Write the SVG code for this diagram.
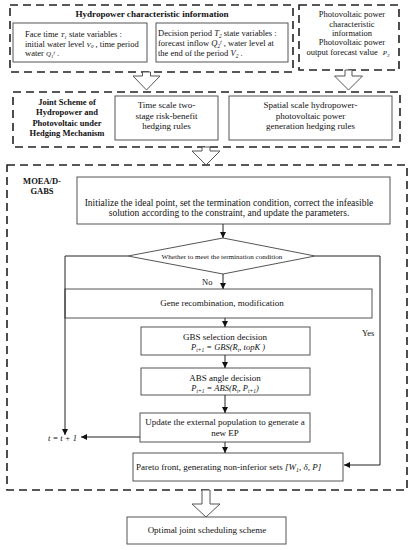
<svg xmlns="http://www.w3.org/2000/svg" width="419" height="550" viewBox="0 0 419 550">
<defs>
<marker id="ah" viewBox="0 0 10 10" refX="10" refY="5" markerWidth="6" markerHeight="6" orient="auto-start-reverse" markerUnits="userSpaceOnUse">
<path d="M0,0 L10,5 L0,10 z" fill="#111"/>
</marker>
<style>
.dash{fill:none;stroke:#222;stroke-width:1.6;stroke-dasharray:8,5}
.box{fill:#fff;stroke:#555;stroke-width:1}
.hollow{fill:#fff;stroke:#555;stroke-width:1}
.t{font-family:"Liberation Serif","Times New Roman",serif;font-size:8.5px;fill:#111}
.m{font-size:9px}
.c{text-anchor:middle}
.b{font-weight:bold}
.i{font-style:italic}
.ln{fill:none;stroke:#222;stroke-width:1}
.arr{fill:none;stroke:#222;stroke-width:1;marker-end:url(#ah)}
</style>
</defs>
<rect width="419" height="550" fill="#fff"/>

<g id="hydro-info">
<rect class="dash" x="10" y="5" width="283" height="67"/>
<text class="t c b" x="152" y="17" style="font-size:9.1px">Hydropower characteristic information</text>
</g>
<g id="face-time">
<rect class="box" x="13" y="23" width="134" height="39"/>
<text class="t" x="25" y="37">Face time <tspan class="i" font-size="7">T<tspan font-size="5" dy="1.5">1</tspan></tspan><tspan dy="-1.5">  state variables :</tspan></text>
<text class="t" x="25" y="46.5">initial water level <tspan class="i" font-size="7">V<tspan font-size="5" dy="1.5">0</tspan></tspan><tspan dy="-1.5"> , time period</tspan></text>
<text class="t" x="25" y="56">water <tspan class="i" font-size="7">Q<tspan font-size="5" dy="1.5">1</tspan><tspan font-size="5" dy="-4">f</tspan></tspan><tspan dy="2.5"> .</tspan></text>
</g>
<g id="decision-period">
<rect class="box" x="156" y="23" width="132" height="39"/>
<text class="t" x="158" y="36">Decision period <tspan class="i">T<tspan font-size="5.5" dy="1.5">2</tspan></tspan><tspan dy="-1.5">  state variables :</tspan></text>
<text class="t" x="158" y="46">forecast inflow <tspan class="i">Q<tspan font-size="5.5" dy="1.5">2</tspan><tspan font-size="5" dy="-5">f</tspan></tspan><tspan dy="3.5"> , water level at</tspan></text>
<text class="t" x="158" y="56">the end of the period <tspan class="i">V<tspan font-size="5.5" dy="1.5">2</tspan></tspan><tspan dy="-1.5"> .</tspan></text>
</g>
<g id="pv-info">
<rect class="dash" x="299" y="5" width="100" height="65"/>
<text class="t c" x="352" y="17">Photovoltaic power</text>
<text class="t c" x="352" y="26.5">characteristic</text>
<text class="t c" x="352" y="36">information</text>
<text class="t c" x="352" y="45">Photovoltaic power</text>
<text class="t c" x="348" y="55">output forecast value <tspan class="i" font-size="7" dx="3">P<tspan font-size="5" dy="1.5">3</tspan></tspan></text>
</g>

<g id="joint-scheme">
<rect class="dash" x="13" y="92" width="387" height="55"/>
<text class="t c b" x="67" y="105">Joint Scheme of</text>
<text class="t c b" x="67" y="115">Hydropower and</text>
<text class="t c b" x="67" y="126">Photovoltaic under</text>
<text class="t c b" x="67" y="136">Hedging Mechanism</text>
</g>
<g id="time-scale">
<rect class="box" x="115" y="96" width="103" height="44"/>
<text class="t c m" x="166.5" y="108">Time scale two-</text>
<text class="t c m" x="166.5" y="118.5">stage risk-benefit</text>
<text class="t c m" x="166.5" y="129">hedging rules</text>
</g>
<g id="spatial-scale">
<rect class="box" x="229" y="96" width="163" height="44"/>
<text class="t c m" x="310.5" y="108">Spatial scale hydropower-</text>
<text class="t c m" x="310.5" y="118.5">photovoltaic power</text>
<text class="t c m" x="310.5" y="129">generation hedging rules</text>
</g>

<g id="moead">
<rect class="dash" x="7" y="165" width="400" height="325"/>
<text class="t c b" x="42" y="184">MOEA/D-</text>
<text class="t c b" x="42" y="194">GABS</text>
</g>
<g id="init">
<rect class="box" x="77" y="177" width="313" height="47"/>
<text class="t c" x="229" y="206" style="font-size:9.5px">Initialize the ideal point, set the termination condition, correct the infeasible</text>
<text class="t c" x="229" y="216" style="font-size:9.5px">solution according to the constraint, and update the parameters.</text>
</g>
<g id="termination">
<polygon class="box" points="223,238 315,256 223,274 128,256"/>
<text class="t c" x="222" y="258.5" style="font-size:7.1px">Whether to meet the termination condition</text>
</g>
<g id="gene">
<rect class="box" x="65" y="289" width="307" height="29"/>
<text class="t c m" x="222" y="306">Gene recombination, modification</text>
</g>
<g id="gbs">
<rect class="box" x="141" y="327" width="169" height="28"/>
<text class="t c m" x="225" y="340">GBS selection decision</text>
<text class="t c i" x="228" y="350"><tspan>P<tspan font-size="5.5" dy="1.5">t+1</tspan></tspan><tspan dy="-1.5"> = GBS(R</tspan><tspan font-size="5.5" dy="1.5">t</tspan><tspan dy="-1.5">, topK )</tspan></text>
</g>
<g id="abs">
<rect class="box" x="141" y="368" width="169" height="27"/>
<text class="t c m" x="225" y="381">ABS angle decision</text>
<text class="t c i" x="225" y="391"><tspan>P<tspan font-size="5.5" dy="1.5">t+1</tspan></tspan><tspan dy="-1.5"> = ABS(R</tspan><tspan font-size="5.5" dy="1.5">t</tspan><tspan dy="-1.5">, P</tspan><tspan font-size="5.5" dy="1.5">t+1</tspan><tspan dy="-1.5">)</tspan></text>
</g>
<g id="update">
<rect class="box" x="140" y="413" width="170" height="29"/>
<text class="t c m" x="225" y="425">Update the external population to generate a</text>
<text class="t c m" x="225" y="436">new EP</text>
</g>
<g id="t-plus">
<text class="t i" x="48" y="441">t = t + 1</text>
</g>
<g id="pareto">
<rect class="box" x="133" y="453" width="210" height="28"/>
<text class="t" x="136" y="470" style="font-size:9px">Pareto front, generating non-inferior sets   <tspan class="i">[W<tspan font-size="6" dy="1.5">1</tspan><tspan dy="-1.5">, δ, P]</tspan></tspan></text>
</g>
<g id="optimal">
<rect class="box" x="127" y="517" width="159" height="27"/>
<text class="t c m" x="207" y="533">Optimal joint scheduling scheme</text>
</g>

<g id="connectors">
<polygon class="hollow" points="142.5,72 150.5,72 150.5,76 160,76 146.5,90 133,76 142.5,76"/>
<polygon class="hollow" points="345,70 352,70 352,76 362.5,76 348.5,90 334.5,76 345,76"/>
<polygon class="hollow" points="202,147 210,147 210,151 220,151 206,165 192,151 202,151"/>
<polygon class="hollow" points="202,490 210,490 210,504 220,504 206,517 192,504 202,504"/>
<line class="arr" x1="223" y1="224" x2="223" y2="238"/>
<line class="arr" x1="223" y1="274" x2="223" y2="289"/>
<line class="arr" x1="225" y1="318" x2="225" y2="327"/>
<line class="arr" x1="225" y1="355" x2="225" y2="368"/>
<line class="arr" x1="225" y1="395" x2="225" y2="413"/>
<line class="arr" x1="225" y1="442" x2="225" y2="453"/>
<polyline class="arr" points="128,256 65,256 65,435"/>
<line class="arr" x1="140" y1="437" x2="81" y2="437"/>
<polyline class="arr" points="315,256 380,256 380,465 344,465"/>
<text class="t" x="202" y="285">No</text>
<text class="t" x="362" y="336">Yes</text>
</g>
</svg>
